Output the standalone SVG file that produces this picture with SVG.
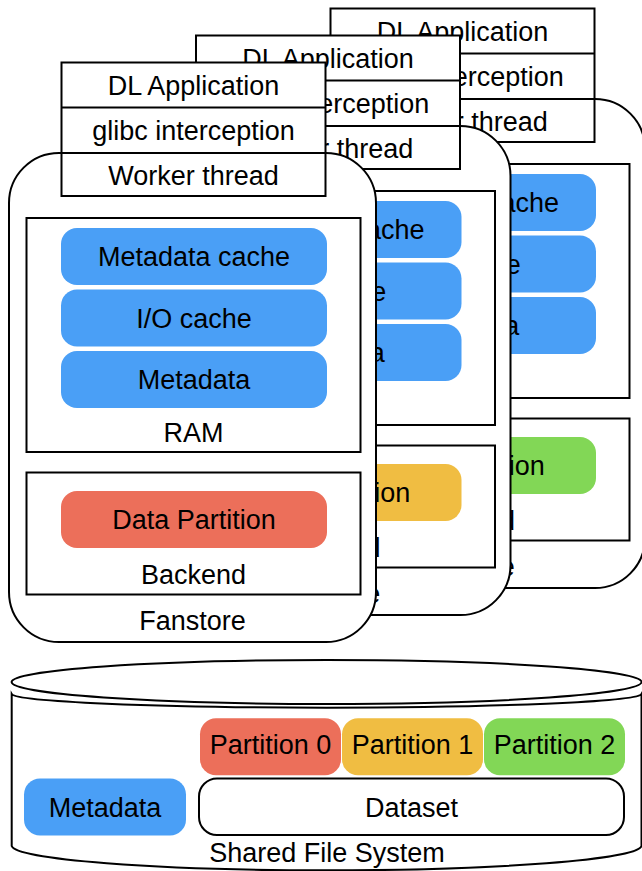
<svg xmlns="http://www.w3.org/2000/svg" width="642" height="871" viewBox="0 0 642 871">
<style>
text{font-family:"Liberation Sans",Arial,Helvetica,sans-serif;font-size:27px;fill:#000;text-anchor:middle}
.ln{fill:#fff;stroke:#000;stroke-width:2}
.blue{fill:#4A9FF6}
.red{fill:#EC6F5A}
.yel{fill:#F0BD42}
.grn{fill:#82D756}
</style>
<rect width="642" height="871" fill="#fff"/>

<g id="node-stack2" transform="translate(269,-54)">
  <g id="fanstore2"><rect class="ln" x="9" y="153" width="367" height="489" rx="50"/><text x="192.5" y="630">Fanstore</text></g>
  <g id="ram2"><rect class="ln" x="26.5" y="218" width="334" height="234"/>
    <rect class="blue" x="61" y="228" width="266" height="57" rx="16"/><text x="194" y="266">Metadata cache</text>
    <rect class="blue" x="61" y="289.5" width="266" height="57" rx="16"/><text x="194" y="327.5">I/O cache</text>
    <rect class="blue" x="61" y="351" width="266" height="57" rx="16"/><text x="194" y="389">Metadata</text>
    <text x="193.5" y="441.5">RAM</text></g>
  <g id="backend2"><rect class="ln" x="26.5" y="472.5" width="334" height="122"/>
    <rect class="grn" x="61" y="491" width="266" height="57" rx="16"/><text x="194" y="529">Data Partition</text>
    <text x="193.5" y="584">Backend</text></g>
  <g id="app2"><rect class="ln" x="61.5" y="62.5" width="264" height="133.5"/>
    <path d="M61.5 107.5H325.5M61.5 153H325.5" stroke="#000" stroke-width="2"/>
    <text x="193.5" y="95">DL Application</text><text x="193.5" y="140">glibc interception</text><text x="193.5" y="185">Worker thread</text></g>
</g>

<g id="node-stack1" transform="translate(134.5,-27)">
  <g id="fanstore1"><rect class="ln" x="9" y="153" width="367" height="489" rx="50"/><text x="192.5" y="630">Fanstore</text></g>
  <g id="ram1"><rect class="ln" x="26.5" y="218" width="334" height="234"/>
    <rect class="blue" x="61" y="228" width="266" height="57" rx="16"/><text x="194" y="266">Metadata cache</text>
    <rect class="blue" x="61" y="289.5" width="266" height="57" rx="16"/><text x="194" y="327.5">I/O cache</text>
    <rect class="blue" x="61" y="351" width="266" height="57" rx="16"/><text x="194" y="389">Metadata</text>
    <text x="193.5" y="441.5">RAM</text></g>
  <g id="backend1"><rect class="ln" x="26.5" y="472.5" width="334" height="122"/>
    <rect class="yel" x="61" y="491" width="266" height="57" rx="16"/><text x="194" y="529">Data Partition</text>
    <text x="193.5" y="584">Backend</text></g>
  <g id="app1"><rect class="ln" x="61.5" y="62.5" width="264" height="133.5"/>
    <path d="M61.5 107.5H325.5M61.5 153H325.5" stroke="#000" stroke-width="2"/>
    <text x="193.5" y="95">DL Application</text><text x="193.5" y="140">glibc interception</text><text x="193.5" y="185">Worker thread</text></g>
</g>

<g id="node-stack0">
  <g id="fanstore0"><rect class="ln" x="9" y="153" width="367" height="489" rx="50"/><text x="192.5" y="630">Fanstore</text></g>
  <g id="ram0"><rect class="ln" x="26.5" y="218" width="334" height="234"/>
    <rect class="blue" x="61" y="228" width="266" height="57" rx="16"/><text x="194" y="266">Metadata cache</text>
    <rect class="blue" x="61" y="289.5" width="266" height="57" rx="16"/><text x="194" y="327.5">I/O cache</text>
    <rect class="blue" x="61" y="351" width="266" height="57" rx="16"/><text x="194" y="389">Metadata</text>
    <text x="193.5" y="441.5">RAM</text></g>
  <g id="backend0"><rect class="ln" x="26.5" y="472.5" width="334" height="122"/>
    <rect class="red" x="61" y="491" width="266" height="57" rx="16"/><text x="194" y="529">Data Partition</text>
    <text x="193.5" y="584">Backend</text></g>
  <g id="app0"><rect class="ln" x="61.5" y="62.5" width="264" height="133.5"/>
    <path d="M61.5 107.5H325.5M61.5 153H325.5" stroke="#000" stroke-width="2"/>
    <text x="193.5" y="95">DL Application</text><text x="193.5" y="140">glibc interception</text><text x="193.5" y="185">Worker thread</text></g>
</g>

<g id="node-sfs">
  <path class="ln" d="M11.7 694V846A315 25 0 0 0 641.5 846V694A315 14 0 0 1 11.7 694Z"/>
  <ellipse class="ln" cx="326.6" cy="682" rx="315" ry="22"/>
  <g id="p0"><rect class="red" x="200" y="718.3" width="141" height="57" rx="16"/><text x="270.5" y="754">Partition 0</text></g>
  <g id="p1"><rect class="yel" x="342" y="718.3" width="141" height="57" rx="16"/><text x="412.5" y="754">Partition 1</text></g>
  <g id="p2"><rect class="grn" x="484" y="718.3" width="141" height="57" rx="16"/><text x="554.5" y="754">Partition 2</text></g>
  <g id="meta"><rect class="blue" x="24" y="778.5" width="162" height="57" rx="16"/><text x="105" y="816.5">Metadata</text></g>
  <g id="dataset"><rect class="ln" x="199" y="778.5" width="425" height="56.5" rx="18"/><text x="411.5" y="816.5">Dataset</text></g>
  <text x="327" y="862">Shared File System</text>
</g>
<g id="connectors"/>
</svg>
